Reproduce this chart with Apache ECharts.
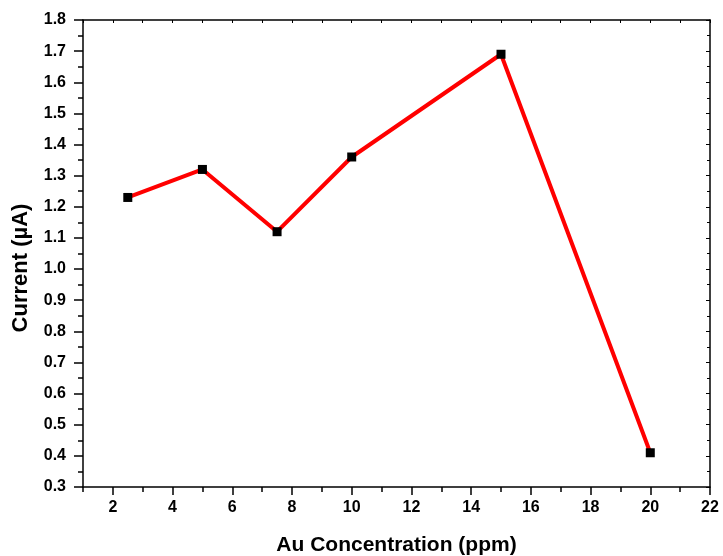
<!DOCTYPE html>
<html>
<head>
<meta charset="utf-8">
<script src="https://cdn.jsdelivr.net/npm/echarts@6/dist/echarts.min.js"></script>
<style>
  html, body { margin: 0; padding: 0; background: #fff; }
  #chart { width: 723px; height: 556px; }
</style>
</head>
<body>
<div id="chart"></div>
<script>
// Au concentration (ppm) vs measured current (µA)
const concentration = [2.5, 5, 7.5, 10, 15, 20];
const current = [1.23, 1.32, 1.12, 1.36, 1.69, 0.41];
const xTickLabels = [2, 4, 6, 8, 10, 12, 14, 16, 18, 20, 22];

const FONT = '"Liberation Sans", Arial, sans-serif';
const chart = echarts.init(document.getElementById('chart'), null, { renderer: 'canvas' });

const points = concentration.map((x, i) => [x, current[i]]);

const baseLine = { show: true, lineStyle: { color: '#000', width: 1.5 } };

chart.setOption({
  backgroundColor: '#fff',
  animation: false,
  grid: { left: 83, right: 13, top: 20, bottom: 69, containLabel: false, outerBoundsMode: 'none' },
  xAxis: [
    {
      type: 'value', position: 'bottom', min: 1, max: 22,
      axisLine: { ...baseLine, onZero: false },
      axisTick: { show: true, length: 8, inside: false, customValues: xTickLabels,
                  lineStyle: { color: '#000', width: 1.5 } },
      axisLabel: { show: true, customValues: xTickLabels, color: '#000',
                   fontFamily: FONT, fontWeight: 'bold', fontSize: 16, margin: 13,
                   showMinLabel: true, showMaxLabel: true },
      splitLine: { show: false },
      name: 'Au Concentration (ppm)', nameLocation: 'middle', nameGap: 48,
      nameTextStyle: { color: '#000', fontFamily: FONT, fontWeight: 'bold', fontSize: 21 }
    },
    {
      // minor ticks on the bottom edge
      type: 'value', position: 'bottom', min: 1, max: 22, interval: 1,
      axisLine: { show: false, onZero: false },
      axisTick: { show: true, length: 5, lineStyle: { color: '#000', width: 1.5 } },
      axisLabel: { show: false }, splitLine: { show: false }
    },
    {
      // top frame edge with inward ticks
      type: 'value', position: 'top', min: 1, max: 22, interval: 1,
      axisLine: { ...baseLine, onZero: false },
      axisTick: { show: true, inside: true, length: 3, lineStyle: { color: '#000', width: 1 } },
      axisLabel: { show: false }, splitLine: { show: false }
    }
  ],
  yAxis: [
    {
      type: 'value', position: 'left', min: 0.3, max: 1.8, interval: 0.1,
      axisLine: { ...baseLine, onZero: false },
      axisTick: { show: true, length: 9, lineStyle: { color: '#000', width: 1.5 } },
      minorTick: { show: true, splitNumber: 2, length: 5, lineStyle: { color: '#000', width: 1.5 } },
      axisLabel: { color: '#000', fontFamily: FONT, fontWeight: 'bold', fontSize: 16, margin: 17,
                   formatter: v => v.toFixed(1) },
      splitLine: { show: false }, minorSplitLine: { show: false }
    },
    {
      // right frame edge with inward ticks
      type: 'value', position: 'right', min: 0.3, max: 1.8, interval: 0.1,
      axisLine: { ...baseLine, onZero: false },
      axisTick: { show: true, inside: true, length: 4, lineStyle: { color: '#000', width: 1 } },
      minorTick: { show: true, splitNumber: 2, length: 3, lineStyle: { color: '#000', width: 1 } },
      axisLabel: { show: false }, splitLine: { show: false }, minorSplitLine: { show: false }
    }
  ],
  graphic: [{
    type: 'text', x: 21, y: 268, rotation: Math.PI / 2,
    style: {
      text: 'Current (µA)', fill: '#000', font: 'bold 22px ' + FONT,
      align: 'center', verticalAlign: 'middle'
    }
  }],
  series: [{
    type: 'line', data: points, xAxisIndex: 0, yAxisIndex: 0,
    lineStyle: { color: '#ff0000', width: 4 },
    symbol: 'rect', symbolSize: 9,
    itemStyle: { color: '#000', borderWidth: 0 },
    z: 3
  }]
});
</script>
</body>
</html>
